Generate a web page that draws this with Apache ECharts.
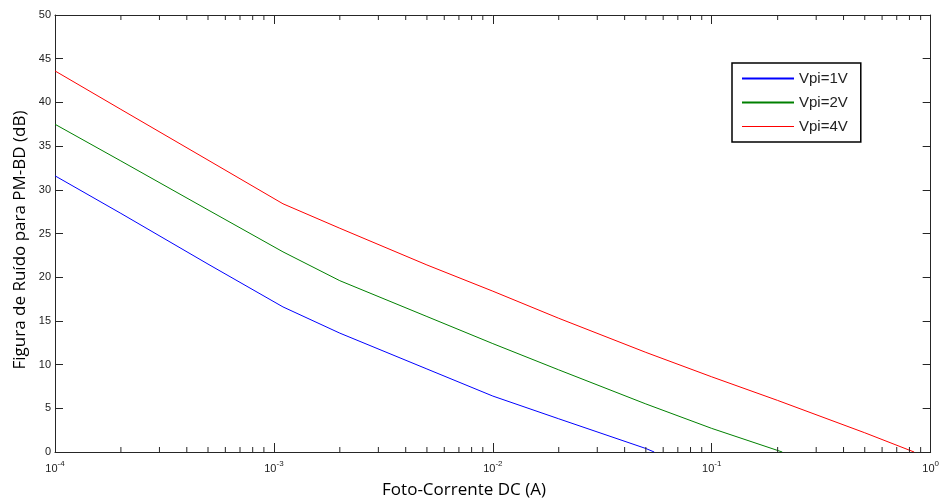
<!DOCTYPE html>
<html>
<head>
<meta charset="utf-8">
<script src="https://cdn.jsdelivr.net/npm/echarts@6/dist/echarts.min.js"></script>
<style>html,body{margin:0;padding:0;background:#fff;}#c{width:942px;height:503px;}</style>
</head>
<body>
<div id="c"></div>
<script>
// ---- data ----
const seriesNames = ['Vpi=1V', 'Vpi=2V', 'Vpi=4V'];
const xBlue  = [1e-4, 2e-4, 5e-4, 1.1e-3, 2e-3, 5e-3, 1e-2, 2e-2, 5e-2, 5.46e-2];
const yBlue  = [31.6, 27.3, 21.5, 16.6, 13.6, 9.5, 6.4, 3.8, 0.4, 0];
const xGreen = [1e-4, 2e-4, 5e-4, 1.1e-3, 2e-3, 5e-3, 1e-2, 2e-2, 5e-2, 1e-1, 2.1e-1];
const yGreen = [37.5, 33.3, 27.7, 22.9, 19.6, 15.5, 12.4, 9.4, 5.5, 2.7, 0];
const xRed   = [1e-4, 2e-4, 5e-4, 1.1e-3, 2e-3, 5e-3, 1e-2, 2e-2, 5e-2, 1e-1, 2e-1, 5e-1, 8.4e-1];
const yRed   = [43.6, 39.2, 33.4, 28.4, 25.6, 21.4, 18.4, 15.3, 11.4, 8.6, 5.9, 2.2, 0];
const minorTicks = [];
[1e-4, 1e-3, 1e-2, 1e-1].forEach(d => { for (let k = 2; k <= 9; k++) minorTicks.push(+(d * k).toPrecision(3)); });
const xTitle = 'Foto-Corrente DC (A)';
const yTitle = 'Figura de Ruído para PM-BD (dB)';

const zip = (xs, ys) => xs.map((x, i) => [x, ys[i]]);
const chart = echarts.init(document.getElementById('c'), null, {renderer: 'canvas'});
const axisColor = '#262626';
const labelFont = 'Liberation Sans, Arial, sans-serif';
const titleFont = '17px "Open Sans", "Noto Sans", sans-serif';

const lineSeries = (name, xs, ys, color) => ({
  name, type: 'line', data: zip(xs, ys), symbol: 'none', showSymbol: false,
  lineStyle: {color, width: 1}, itemStyle: {color}, animation: false, silent: true
});

chart.setOption({
  animation: false,
  grid: {left: 55, top: 15, right: 8, bottom: 51, containLabel: false},
  legend: {
    data: [
      {name: seriesNames[0], lineStyle: {width: 2}},
      {name: seriesNames[1], lineStyle: {width: 2}},
      {name: seriesNames[2], lineStyle: {width: 1}}
    ],
    orient: 'vertical', left: 732, top: 63,
    itemWidth: 52, itemHeight: 14, itemGap: 9,
    padding: [8, 13, 8, 9],
    itemStyle: {opacity: 0},
    borderColor: '#000', borderWidth: 1.5, backgroundColor: '#fff',
    textStyle: {fontFamily: labelFont, fontSize: 15, lineHeight: 14, color: '#222'}
  },
  xAxis: [{
    type: 'log', logBase: 10, min: 1e-4, max: 1,
    axisLine: {show: true, onZero: false, lineStyle: {color: axisColor}},
    axisTick: {show: true, inside: true, length: 9, lineStyle: {color: axisColor}},
    splitLine: {show: false},
    axisLabel: {
      margin: 8,
      formatter: v => '{b|10}{s|' + Math.round(Math.log10(v)) + '}',
      rich: {
        b: {fontFamily: labelFont, fontSize: 11, color: '#222', lineHeight: 14, verticalAlign: 'bottom'},
        s: {fontFamily: labelFont, fontSize: 8, color: '#222', lineHeight: 8, verticalAlign: 'top'}
      }
    }
  }, {
    type: 'log', logBase: 10, min: 1e-4, max: 1, position: 'top',
    axisLine: {show: true, onZero: false, lineStyle: {color: axisColor}},
    axisTick: {show: true, inside: true, length: 9, lineStyle: {color: axisColor}},
    axisLabel: {show: false}, splitLine: {show: false}
  }],
  yAxis: [{
    type: 'value', min: 0, max: 50, interval: 5,
    axisLine: {show: true, onZero: false, lineStyle: {color: axisColor}},
    axisTick: {show: true, inside: true, length: 8, lineStyle: {color: axisColor}},
    splitLine: {show: false},
    axisLabel: {margin: 4, fontFamily: labelFont, fontSize: 11, color: '#222'}
  }, {
    type: 'value', min: 0, max: 50, interval: 5, position: 'right',
    axisLine: {show: true, onZero: false, lineStyle: {color: axisColor}},
    axisTick: {show: true, inside: true, length: 8, lineStyle: {color: axisColor}},
    axisLabel: {show: false}, splitLine: {show: false}
  }],
  series: [
    lineSeries(seriesNames[0], xBlue, yBlue, '#0000ff'),
    lineSeries(seriesNames[1], xGreen, yGreen, '#008000'),
    lineSeries(seriesNames[2], xRed, yRed, '#ff0000'),
    {
      type: 'custom', silent: true, animation: false, z: 10,
      data: minorTicks.map(v => [v, 0]),
      renderItem: (params, api) => {
        const cs = params.coordSys;
        const px = api.coord([api.value(0), 0])[0];
        const yb = cs.y + cs.height, yt = cs.y;
        const st = {stroke: axisColor, lineWidth: 1};
        return {type: 'group', children: [
          {type: 'line', shape: {x1: px, y1: yb, x2: px, y2: yb - 5}, style: st},
          {type: 'line', shape: {x1: px, y1: yt, x2: px, y2: yt + 5}, style: st}
        ]};
      }
    }
  ],
  graphic: [
    {type: 'text', x: 464, y: 490,
     style: {text: xTitle, font: titleFont, fill: '#000', align: 'center', verticalAlign: 'middle'}},
    {type: 'text', x: 20, y: 240, rotation: Math.PI / 2,
     style: {text: yTitle, font: titleFont, fill: '#000', align: 'center', verticalAlign: 'middle'}}
  ]
});
</script>
</body>
</html>
